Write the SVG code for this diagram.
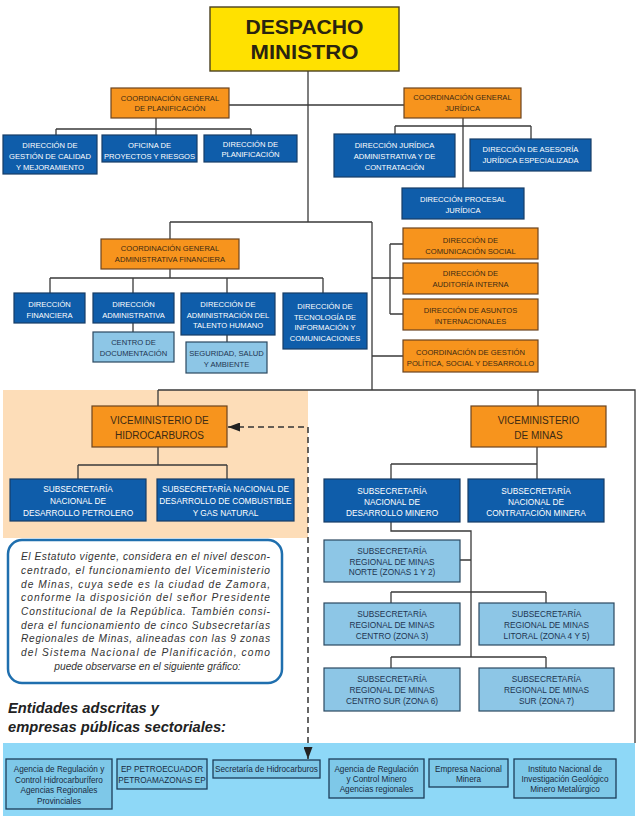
<svg xmlns="http://www.w3.org/2000/svg" width="638" height="818" viewBox="0 0 638 818">
<defs>
<style>
.db{fill:#0F5DAA;stroke:#163c66;stroke-width:1.2}
.or{fill:#F7941D;stroke:#6b4420;stroke-width:1.2}
.lb{fill:#8DC6E6;stroke:#2b4860;stroke-width:1.2}
.bb{fill:#7EC8E8;stroke:#1d3d5a;stroke-width:1.3}
.yl{fill:#FFE100;stroke:#4a4020;stroke-width:1.4}
text{font-family:"Liberation Sans",Arial,sans-serif;text-anchor:middle}
.tw{fill:#ffffff;font-size:7.6px}
.to{fill:#3b2a14;font-size:7.6px}
.tl{fill:#1e3550;font-size:7.6px}
.ts{fill:#ffffff;font-size:8.3px}
.tr{fill:#1e3550;font-size:8.3px}
.tv{fill:#3b2a14;font-size:10px}
.tb{fill:#1a2a40;font-size:8.2px}
.tt{fill:#333333;font-size:10.2px;font-style:italic;text-anchor:start}
.th{fill:#222222;font-size:14.7px;font-style:italic;font-weight:bold;text-anchor:start}
.tm{fill:#2a2410;font-size:21px;font-weight:bold}
.ln{fill:none;stroke:#3a3a3a;stroke-width:1.3}
.dl{fill:none;stroke:#333333;stroke-width:1.5;stroke-dasharray:6 4}
</style>
<marker id="ah" viewBox="0 0 12 9" refX="12" refY="4.5" markerWidth="12" markerHeight="9" markerUnits="userSpaceOnUse" orient="auto-start-reverse">
<path d="M0,0 L12,4.5 L0,9 z" fill="#222"/>
</marker>
</defs>
<rect width="638" height="818" fill="#ffffff"/>
<rect x="3" y="390" width="305" height="148" fill="#FDDDB8"/>
<rect x="3" y="743" width="632" height="73" fill="#8ED8F7"/>

<g id="connectors">
<path class="ln" d="M308,71V222M229,105H404M156,118V129M56,129H251M56,129V135M156,129V135M251,129V135"/>
<path class="ln" d="M463,118V188M395,126H531M395,126V134M531,126V139"/>
<path class="ln" d="M170,222H372M170,222V239M372,222V390"/>
<path class="ln" d="M170,269V278M50,278H323M50,278V293M133,278V293M227,278V293M323,278V293M133,323V332M227,335V342"/>
<path class="ln" d="M372,278H403M390,244V314M390,244H403M390,314H403M372,356H403"/>
<path class="ln" d="M158,390H635V743M158,390V406M538,390V406"/>
<path class="ln" d="M158,447V465M78,465H227M78,465V479M227,465V479"/>
<path class="ln" d="M537,447V464M391,464H537M391,464V479M537,464V479"/>
<path class="ln" d="M391,522V531H471V657M460,560H471M391,592H546M391,592V603M546,592V603M391,657H546M391,657V668M546,657V668"/>
<path class="dl" d="M228,427H308V759" marker-start="url(#ah)" marker-end="url(#ah)"/>
</g>

<g id="despacho"><rect class="yl" x="210" y="7" width="189" height="64"/>
<text class="tm" x="304.5" y="34" textLength="118" lengthAdjust="spacingAndGlyphs">DESPACHO</text>
<text class="tm" x="304.5" y="58.5" textLength="108" lengthAdjust="spacingAndGlyphs">MINISTRO</text></g>

<g id="cg_plan"><rect class="or" x="111" y="88" width="118" height="30"/>
<text class="to"><tspan x="170" y="100.5">COORDINACIÓN GENERAL</tspan><tspan x="170" y="111">DE PLANIFICACIÓN</tspan></text></g>
<g id="d_calidad"><rect class="db" x="3" y="135" width="94" height="39"/>
<text class="tw"><tspan x="50" y="147.7">DIRECCIÓN DE</tspan><tspan x="50" y="158.7">GESTIÓN DE CALIDAD</tspan><tspan x="50" y="169.7">Y MEJORAMIENTO</tspan></text></g>
<g id="oficina"><rect class="db" x="102" y="135" width="95" height="27"/>
<text class="tw"><tspan x="149.5" y="148">OFICINA DE</tspan><tspan x="149.5" y="159">PROYECTOS Y RIESGOS</tspan></text></g>
<g id="d_planif"><rect class="db" x="204" y="135" width="93" height="27"/>
<text class="tw"><tspan x="250.5" y="146.7">DIRECCIÓN DE</tspan><tspan x="250.5" y="157.2">PLANIFICACIÓN</tspan></text></g>

<g id="cg_jur"><rect class="or" x="404" y="88" width="117" height="30"/>
<text class="to"><tspan x="462.5" y="100">COORDINACIÓN GENERAL</tspan><tspan x="462.5" y="111">JURÍDICA</tspan></text></g>
<g id="d_jur_adm"><rect class="db" x="334" y="134" width="121" height="43"/>
<text class="tw"><tspan x="394.5" y="148">DIRECCIÓN JURÍDICA</tspan><tspan x="394.5" y="159">ADMINISTRATIVA Y DE</tspan><tspan x="394.5" y="170">CONTRATACIÓN</tspan></text></g>
<g id="d_asesoria"><rect class="db" x="470" y="139" width="121" height="32"/>
<text class="tw"><tspan x="530.5" y="152">DIRECCIÓN DE ASESORÍA</tspan><tspan x="530.5" y="163">JURÍDICA ESPECIALIZADA</tspan></text></g>
<g id="d_procesal"><rect class="db" x="402" y="188" width="122" height="31"/>
<text class="tw"><tspan x="463" y="202">DIRECCIÓN PROCESAL</tspan><tspan x="463" y="213">JURÍDICA</tspan></text></g>

<g id="cg_adm"><rect class="or" x="101" y="239" width="138" height="30"/>
<text class="to"><tspan x="170" y="251">COORDINACIÓN GENERAL</tspan><tspan x="170" y="261.5">ADMINISTRATIVA FINANCIERA</tspan></text></g>
<g id="d_fin"><rect class="db" x="14" y="293" width="71" height="30"/>
<text class="tw"><tspan x="49.5" y="307">DIRECCIÓN</tspan><tspan x="49.5" y="317.5">FINANCIERA</tspan></text></g>
<g id="d_adm"><rect class="db" x="93" y="293" width="81" height="30"/>
<text class="tw"><tspan x="133.5" y="307">DIRECCIÓN</tspan><tspan x="133.5" y="317.5">ADMINISTRATIVA</tspan></text></g>
<g id="centro_doc"><rect class="lb" x="93" y="332" width="81" height="30"/>
<text class="tl"><tspan x="133.5" y="345">CENTRO DE</tspan><tspan x="133.5" y="356">DOCUMENTACIÓN</tspan></text></g>
<g id="d_talento"><rect class="db" x="181" y="293" width="94" height="42"/>
<text class="tw"><tspan x="228" y="307">DIRECCIÓN DE</tspan><tspan x="228" y="317.5">ADMINISTRACIÓN DEL</tspan><tspan x="228" y="328">TALENTO HUMANO</tspan></text></g>
<g id="seguridad"><rect class="lb" x="186" y="342" width="81" height="31"/>
<text class="tl"><tspan x="226.5" y="356">SEGURIDAD, SALUD</tspan><tspan x="226.5" y="367">Y AMBIENTE</tspan></text></g>
<g id="d_tic"><rect class="db" x="283" y="293" width="84" height="56"/>
<text class="tw"><tspan x="325" y="309">DIRECCIÓN DE</tspan><tspan x="325" y="319.5">TECNOLOGÍA DE</tspan><tspan x="325" y="330">INFORMACIÓN Y</tspan><tspan x="325" y="341">COMUNICACIONES</tspan></text></g>

<g id="d_comunic"><rect class="or" x="403" y="228" width="135" height="31"/>
<text class="to"><tspan x="470.5" y="243">DIRECCIÓN DE</tspan><tspan x="470.5" y="254">COMUNICACIÓN SOCIAL</tspan></text></g>
<g id="d_auditoria"><rect class="or" x="403" y="263" width="135" height="31"/>
<text class="to"><tspan x="470.5" y="276">DIRECCIÓN DE</tspan><tspan x="470.5" y="287">AUDITORÍA INTERNA</tspan></text></g>
<g id="d_asuntos"><rect class="or" x="403" y="299" width="135" height="31"/>
<text class="to"><tspan x="470.5" y="313">DIRECCIÓN DE ASUNTOS</tspan><tspan x="470.5" y="324">INTERNACIONALES</tspan></text></g>
<g id="cg_gestion"><rect class="or" x="403" y="340" width="135" height="32"/>
<text class="to"><tspan x="470.5" y="355">COORDINACIÓN DE GESTIÓN</tspan><tspan x="470.5" y="365.5">POLÍTICA, SOCIAL Y DESARROLLO</tspan></text></g>

<g id="vm_hidro"><rect class="or" x="92" y="406" width="135" height="41"/>
<text class="tv"><tspan x="159.5" y="423.6">VICEMINISTERIO DE</tspan><tspan x="159.5" y="439.3">HIDROCARBUROS</tspan></text></g>
<g id="ss_petrolero"><rect class="db" x="10" y="479" width="136" height="42"/>
<text class="ts"><tspan x="78" y="492">SUBSECRETARÍA</tspan><tspan x="78" y="504">NACIONAL DE</tspan><tspan x="78" y="516">DESARROLLO PETROLERO</tspan></text></g>
<g id="ss_combustible"><rect class="db" x="157" y="479" width="137" height="42"/>
<text class="ts"><tspan x="225.5" y="492">SUBSECRETARÍA NACIONAL DE</tspan><tspan x="225.5" y="504">DESARROLLO DE COMBUSTIBLE</tspan><tspan x="225.5" y="516">Y GAS NATURAL</tspan></text></g>

<g id="vm_minas"><rect class="or" x="471" y="406" width="135" height="41"/>
<text class="tv"><tspan x="538.5" y="423.6">VICEMINISTERIO</tspan><tspan x="538.5" y="439.3">DE MINAS</tspan></text></g>
<g id="ss_minero"><rect class="db" x="324" y="479" width="136" height="43"/>
<text class="ts"><tspan x="392" y="494">SUBSECRETARÍA</tspan><tspan x="392" y="504.7">NACIONAL DE</tspan><tspan x="392" y="515.7">DESARROLLO MINERO</tspan></text></g>
<g id="ss_contratacion"><rect class="db" x="468" y="479" width="136" height="43"/>
<text class="ts"><tspan x="536" y="494">SUBSECRETARÍA</tspan><tspan x="536" y="504.7">NACIONAL DE</tspan><tspan x="536" y="515.7">CONTRATACIÓN MINERA</tspan></text></g>
<g id="sr_norte"><rect class="lb" x="324" y="540" width="136" height="42"/>
<text class="tr"><tspan x="392" y="554">SUBSECRETARÍA</tspan><tspan x="392" y="564.7">REGIONAL DE MINAS</tspan><tspan x="392" y="575.3">NORTE (ZONAS 1 Y 2)</tspan></text></g>
<g id="sr_centro"><rect class="lb" x="324" y="603" width="136" height="42"/>
<text class="tr"><tspan x="392" y="617">SUBSECRETARÍA</tspan><tspan x="392" y="628">REGIONAL DE MINAS</tspan><tspan x="392" y="638.7">CENTRO (ZONA 3)</tspan></text></g>
<g id="sr_litoral"><rect class="lb" x="479" y="603" width="135" height="42"/>
<text class="tr"><tspan x="546.5" y="617">SUBSECRETARÍA</tspan><tspan x="546.5" y="628">REGIONAL DE MINAS</tspan><tspan x="546.5" y="638.7">LITORAL (ZONA 4 Y 5)</tspan></text></g>
<g id="sr_centrosur"><rect class="lb" x="324" y="668" width="136" height="43"/>
<text class="tr"><tspan x="392" y="682.3">SUBSECRETARÍA</tspan><tspan x="392" y="693">REGIONAL DE MINAS</tspan><tspan x="392" y="703.7">CENTRO SUR (ZONA 6)</tspan></text></g>
<g id="sr_sur"><rect class="lb" x="479" y="668" width="135" height="43"/>
<text class="tr"><tspan x="546.5" y="682.3">SUBSECRETARÍA</tspan><tspan x="546.5" y="693">REGIONAL DE MINAS</tspan><tspan x="546.5" y="703.7">SUR (ZONA 7)</tspan></text></g>

<g id="nota"><rect x="8" y="540" width="274" height="143" rx="14" fill="#ffffff" stroke="#1f6fae" stroke-width="2.5"/>
<text class="tt"><tspan x="21" y="560" textLength="249" lengthAdjust="spacing">El Estatuto vigente, considera en el nivel descon-</tspan><tspan x="21" y="574" textLength="249" lengthAdjust="spacing">centrado, el funcionamiento del  Viceministerio</tspan><tspan x="21" y="587.5" textLength="249" lengthAdjust="spacing">de Minas, cuya sede es la ciudad de Zamora,</tspan><tspan x="21" y="601" textLength="249" lengthAdjust="spacing">conforme la disposición del señor Presidente</tspan><tspan x="21" y="614.5" textLength="249" lengthAdjust="spacing">Constitucional de la República. También consi-</tspan><tspan x="21" y="628.5" textLength="249" lengthAdjust="spacing">dera el funcionamiento de cinco Subsecretarías</tspan><tspan x="21" y="642" textLength="249" lengthAdjust="spacing">Regionales de Minas, alineadas con las 9 zonas</tspan><tspan x="21" y="656" textLength="249" lengthAdjust="spacing">del Sistema Nacional de Planificación, como</tspan><tspan x="147.5" y="670" text-anchor="middle">puede observarse en el siguiente gráfico:</tspan></text></g>

<g id="titulo"><text class="th"><tspan x="8" y="713">Entidades adscritas y</tspan><tspan x="8" y="732">empresas públicas sectoriales:</tspan></text></g>

<g id="agencia_hidro"><rect class="bb" x="6" y="759" width="106" height="50"/>
<text class="tb"><tspan x="59" y="772">Agencia de Regulación y</tspan><tspan x="59" y="782.5">Control Hidrocarburífero</tspan><tspan x="59" y="793">Agencias Regionales</tspan><tspan x="59" y="803.5">Provinciales</tspan></text></g>
<g id="ep"><rect class="bb" x="117" y="759" width="90" height="30"/>
<text class="tb"><tspan x="162" y="772">EP PETROECUADOR</tspan><tspan x="162" y="782.5">PETROAMAZONAS EP</tspan></text></g>
<g id="sec_hidro"><rect class="bb" x="213" y="760" width="107" height="18"/>
<text class="tb"><tspan x="266.5" y="772">Secretaría de Hidrocarburos</tspan></text></g>
<g id="agencia_minero"><rect class="bb" x="329" y="759" width="95" height="39"/>
<text class="tb"><tspan x="376.5" y="772">Agencia de Regulación</tspan><tspan x="376.5" y="782">y Control Minero</tspan><tspan x="376.5" y="792">Agencias regionales</tspan></text></g>
<g id="empresa"><rect class="bb" x="429" y="759" width="79" height="28"/>
<text class="tb"><tspan x="468.5" y="772">Empresa Nacional</tspan><tspan x="468.5" y="782">Minera</tspan></text></g>
<g id="instituto"><rect class="bb" x="514" y="759" width="102" height="39"/>
<text class="tb"><tspan x="565" y="772">Instituto Nacional de</tspan><tspan x="565" y="782">Investigación Geológico</tspan><tspan x="565" y="792">Minero Metalúrgico</tspan></text></g>
</svg>
